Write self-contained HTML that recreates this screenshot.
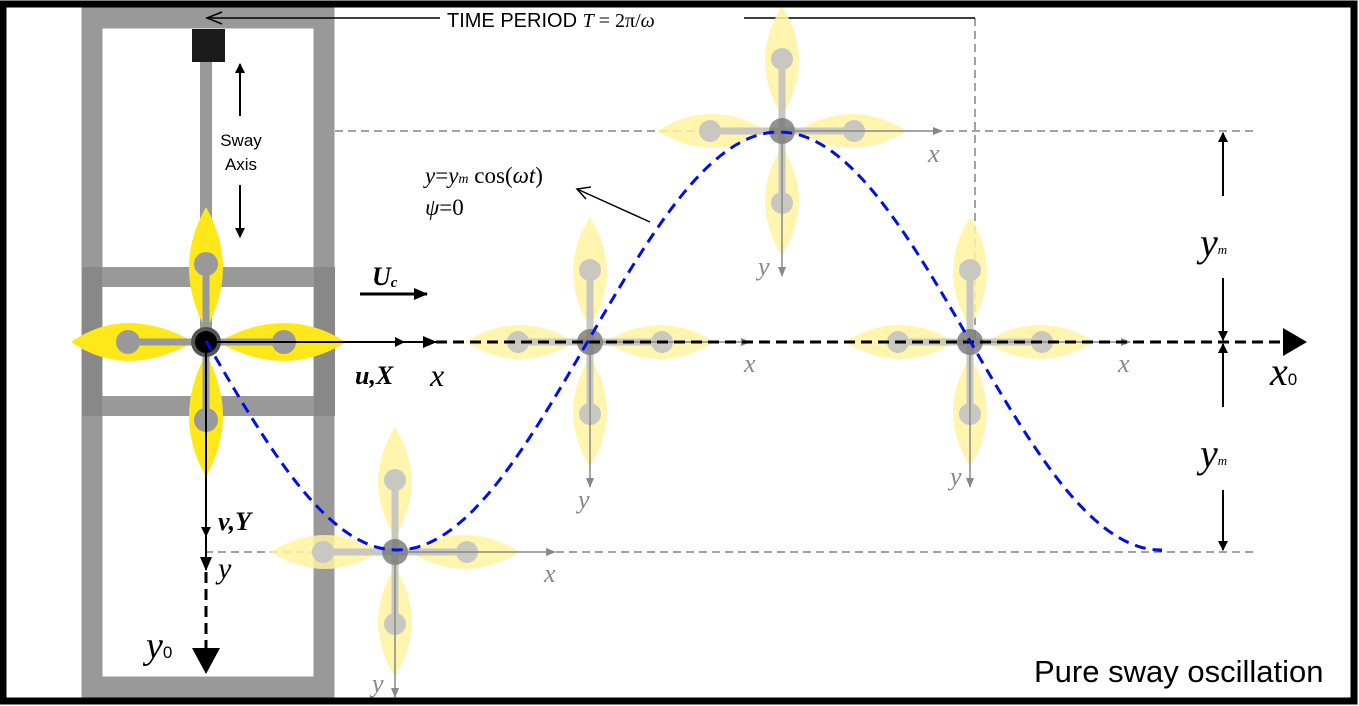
<!DOCTYPE html>
<html><head><meta charset="utf-8"><style>
html,body{margin:0;padding:0;background:#fff;width:1359px;height:706px;overflow:hidden}
svg{display:block}
text{font-family:"Liberation Serif",serif}
.s{font-family:"Liberation Sans",sans-serif}
</style></head><body>
<svg width="1359" height="706" viewBox="0 0 1359 706" xmlns="http://www.w3.org/2000/svg">
<defs>
<marker id="ab" markerWidth="10" markerHeight="10" refX="9" refY="5" orient="auto" markerUnits="userSpaceOnUse"><path d="M0,0 L10,5 L0,10 z" fill="#000"/></marker>
<marker id="ag" markerWidth="10" markerHeight="10" refX="9" refY="5" orient="auto" markerUnits="userSpaceOnUse"><path d="M0,1 L10,5 L0,9 z" fill="#888"/></marker>
<marker id="al" markerWidth="14" markerHeight="14" refX="13" refY="7" orient="auto" markerUnits="userSpaceOnUse"><path d="M0,1 L14,7 L0,13 z" fill="#000"/></marker>
<g id="rob">
 <path d="M15,0 Q70,-34 125,0 Q70,34 15,0z" fill="#fff3a0" opacity="0.85"/>
 <path d="M-15,0 Q-70,-34 -125,0 Q-70,34 -15,0z" fill="#fff3a0" opacity="0.85"/>
 <path d="M0,-15 Q-34,-70 0,-125 Q34,-70 0,-15z" fill="#fff3a0" opacity="0.85"/>
 <path d="M0,15 Q-34,70 0,125 Q34,70 0,15z" fill="#fff3a0" opacity="0.85"/>
 <line x1="-72" y1="0" x2="72" y2="0" stroke="#c8c8c0" stroke-width="7"/>
 <line x1="0" y1="-72" x2="0" y2="72" stroke="#c8c8c0" stroke-width="7"/>
 <circle cx="72" cy="0" r="11" fill="#c8c8c0"/><circle cx="-72" cy="0" r="11" fill="#c8c8c0"/>
 <circle cx="0" cy="72" r="11" fill="#c8c8c0"/><circle cx="0" cy="-72" r="11" fill="#c8c8c0"/>
 <circle r="13" fill="#777" opacity="0.8"/>
 <line x1="0" y1="0" x2="160" y2="0" stroke="#888" stroke-width="1.5" marker-end="url(#ag)"/>
 <line x1="0" y1="0" x2="0" y2="145" stroke="#888" stroke-width="1.5" marker-end="url(#ag)"/>
</g>
</defs>
<!-- frame -->
<rect x="92" y="18" width="232" height="669" fill="none" stroke="#999" stroke-width="21"/>
<rect x="82" y="267" width="253" height="20" fill="#999"/>
<rect x="82" y="396" width="253" height="20" fill="#999"/>
<rect x="82" y="267" width="20" height="149" fill="#888"/>
<rect x="314" y="267" width="21" height="149" fill="#888"/>
<rect x="200" y="55" width="12" height="290" fill="#999"/>
<rect x="192" y="29" width="33" height="33" fill="#1a1a1a"/>
<line x1="240" y1="116" x2="240" y2="64" stroke="#000" stroke-width="2" marker-end="url(#ab)"/>
<line x1="240" y1="185" x2="240" y2="237" stroke="#000" stroke-width="2" marker-end="url(#ab)"/>
<text class="s" x="241" y="146" font-size="17" text-anchor="middle">Sway</text>
<text class="s" x="241" y="170" font-size="17" text-anchor="middle">Axis</text>
<g stroke="#444" stroke-width="1" stroke-dasharray="8,5" fill="none">
<line x1="335" y1="131" x2="1255" y2="131"/>
<line x1="205" y1="552" x2="1255" y2="552"/>
<line x1="975" y1="18" x2="975" y2="342"/>
</g>
<line x1="975" y1="18" x2="207" y2="18" stroke="#000" stroke-width="1.5"/>
<path d="M222,12 L207,18 L222,24" fill="none" stroke="#000" stroke-width="1.5"/>
<rect x="440" y="9" width="304" height="22" fill="#fff"/>
<text class="s" x="447" y="27" font-size="20">TIME PERIOD <tspan font-family="Liberation Serif" font-style="italic">T</tspan><tspan font-family="Liberation Serif"> = 2π/</tspan><tspan font-family="Liberation Serif" font-style="italic">ω</tspan></text>
<use href="#rob" x="395" y="552"/>
<use href="#rob" x="590" y="342"/>
<use href="#rob" x="782" y="131"/>
<use href="#rob" x="970" y="342"/>
<g transform="translate(206,342)">
 <path d="M12,0 Q80,-38 140,0 Q80,38 12,0z" fill="#ffe81a"/>
 <path d="M-12,0 Q-80,-38 -135,0 Q-80,38 -12,0z" fill="#ffe81a"/>
 <path d="M0,-12 Q-34,-75 0,-135 Q34,-75 0,-12z" fill="#ffe81a"/>
 <path d="M0,12 Q-34,75 0,135 Q34,75 0,12z" fill="#ffe81a"/>
 <line x1="-78" y1="0" x2="78" y2="0" stroke="#999" stroke-width="7"/>
 <line x1="0" y1="-78" x2="0" y2="78" stroke="#999" stroke-width="7"/>
 <circle cx="78" r="12" fill="#999"/><circle cx="-78" r="12" fill="#999"/>
 <circle cy="78" r="12" fill="#999"/><circle cy="-78" r="12" fill="#999"/>
 <circle r="15" fill="#555"/><circle r="11" fill="#000"/>
</g>
<line x1="206" y1="342" x2="404" y2="342" stroke="#000" stroke-width="2" marker-end="url(#ab)"/>
<line x1="404" y1="342" x2="436" y2="342" stroke="#000" stroke-width="2" marker-end="url(#al)"/>
<line x1="436" y1="342" x2="1285" y2="342" stroke="#000" stroke-width="3" stroke-dasharray="11,6"/>
<path d="M1283,328 L1307,342 L1283,356z" fill="#000"/>
<line x1="206" y1="342" x2="206" y2="536" stroke="#000" stroke-width="2" marker-end="url(#ab)"/>
<line x1="206" y1="536" x2="206" y2="570" stroke="#000" stroke-width="2" marker-end="url(#al)"/>
<line x1="206" y1="572" x2="206" y2="648" stroke="#000" stroke-width="3" stroke-dasharray="11,6"/>
<path d="M192,648 L206,674 L220,648z" fill="#000"/>
<path id="cv" fill="none" stroke="#0010e0" stroke-width="3" stroke-dasharray="11,7" d=""/>
<line x1="360" y1="294" x2="427" y2="294" stroke="#000" stroke-width="3" marker-end="url(#al)"/>
<text x="372" y="285" font-size="26" font-weight="bold" font-style="italic">U<tspan font-size="15" dy="2">c</tspan></text>
<text x="355" y="384" font-size="26" font-weight="bold" font-style="italic">u,X</text>
<text x="430" y="386" font-size="32" font-style="italic">x</text>
<text x="218" y="530" font-size="26" font-weight="bold" font-style="italic">v,Y</text>
<text x="218" y="578" font-size="30" font-style="italic">y</text>
<text x="146" y="658" font-size="38" font-style="italic">y<tspan font-family="Liberation Sans" font-style="normal" font-size="17">0</tspan></text>
<text x="1270" y="385" font-size="40" font-style="italic">x<tspan font-family="Liberation Sans" font-style="normal" font-size="17">0</tspan></text>
<text x="1200" y="256" font-size="40" font-style="italic">y<tspan font-size="13" dy="-2">m</tspan></text>
<text x="1200" y="467" font-size="40" font-style="italic">y<tspan font-size="13" dy="-2">m</tspan></text>
<g fill="#888" font-size="26" font-style="italic">
<text x="544" y="582">x</text><text x="578" y="508">y</text>
<text x="744" y="372">x</text><text x="372" y="692">y</text>
<text x="928" y="162">x</text><text x="758" y="275">y</text>
<text x="1118" y="372">x</text><text x="950" y="485">y</text>
</g>
<g stroke="#000" stroke-width="2">
<line x1="1223" y1="196" x2="1223" y2="133" marker-end="url(#ab)"/>
<line x1="1223" y1="278" x2="1223" y2="340" marker-end="url(#ab)"/>
<line x1="1223" y1="407" x2="1223" y2="344" marker-end="url(#ab)"/>
<line x1="1223" y1="490" x2="1223" y2="550" marker-end="url(#ab)"/>
</g>
<text x="425" y="183" font-size="23"><tspan font-style="italic">y</tspan>=<tspan font-style="italic">y</tspan><tspan font-size="14" font-style="italic">m</tspan> cos(<tspan font-style="italic">ωt</tspan>)</text>
<text x="425" y="215" font-size="23"><tspan font-style="italic">ψ</tspan>=0</text>
<line x1="650" y1="222" x2="577" y2="189" stroke="#000" stroke-width="1.5"/>
<path d="M591,187 L577,189 L586,199" fill="none" stroke="#000" stroke-width="1.5"/>
<text class="s" x="1034" y="682" font-size="31">Pure sway oscillation</text>
<rect x="3" y="4" width="1351" height="697" fill="none" stroke="#000" stroke-width="7"/>
<script>
(function(){var d="";for(var x=206;x<=1162;x+=2){var y=341+209*Math.sin(2*Math.PI*(x-206)/764);d+=(x==206?"M":"L")+x+","+y.toFixed(1);}document.getElementById("cv").setAttribute("d",d);})();
</script>
</svg>
</body></html>
